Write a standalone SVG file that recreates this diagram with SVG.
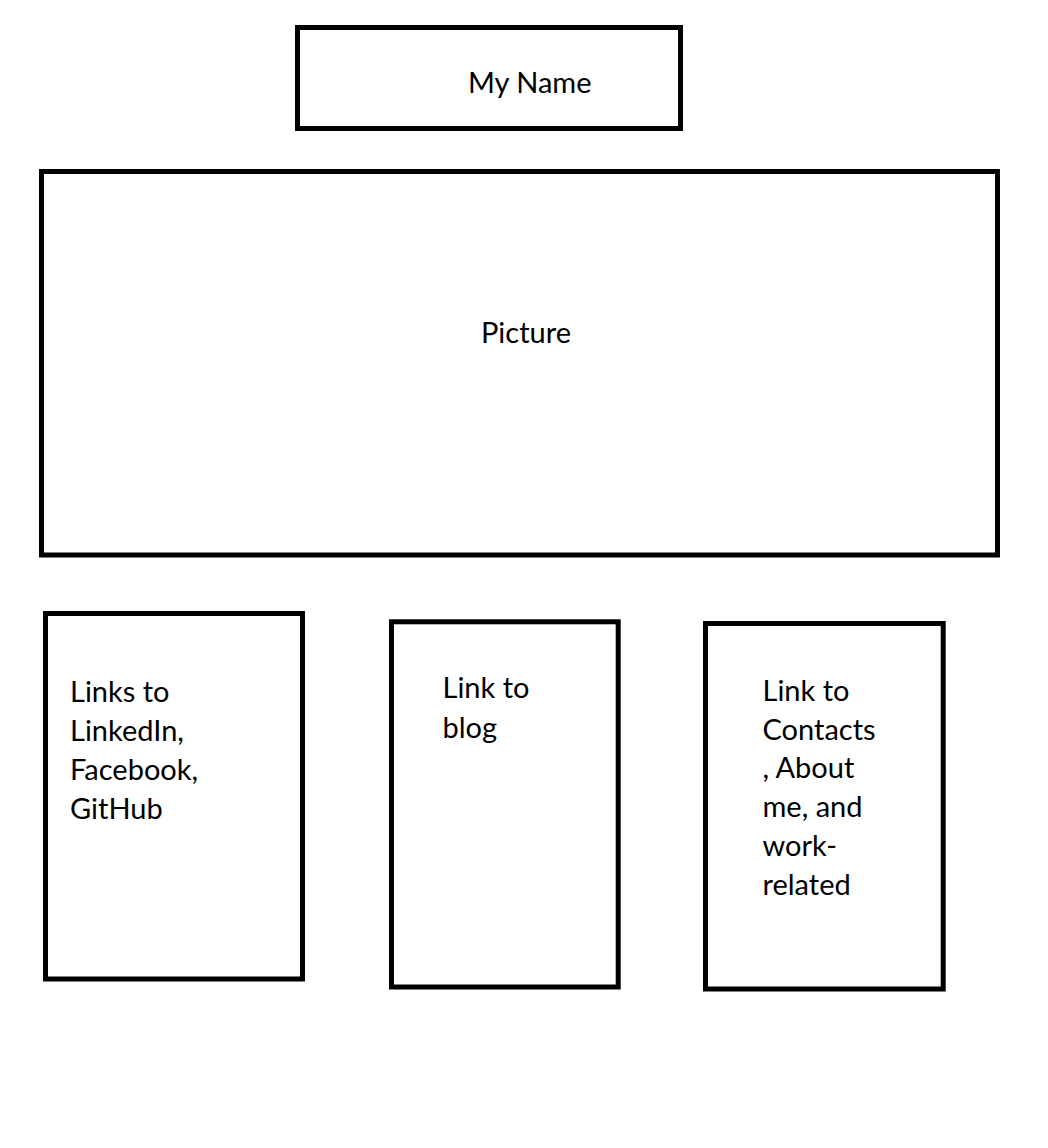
<svg xmlns="http://www.w3.org/2000/svg" width="1048" height="1148" viewBox="0 0 1048 1148">
<style>
.box{fill:none;stroke:#000;stroke-width:5}
.t{font-family:Lato,"Liberation Sans",sans-serif;font-size:29px;fill:#000}
</style>
<rect width="1048" height="1148" fill="#fff"/>
<g id="name">
<rect class="box" x="297.5" y="27.5" width="383" height="101"/>
<text class="t" x="468" y="92.7">My Name</text>
</g>
<g id="picture">
<rect class="box" x="41.5" y="171.5" width="956" height="383.5"/>
<text class="t" x="481" y="343.3">Picture</text>
</g>
<g id="social">
<rect class="box" x="45.5" y="613.5" width="257" height="365.5"/>
<text class="t" x="70"><tspan x="70" y="702.3">Links to</tspan><tspan x="70" y="741.3">LinkedIn,</tspan><tspan x="70" y="780.3">Facebook,</tspan><tspan x="70" y="819.3">GitHub</tspan></text>
</g>
<g id="blog">
<rect class="box" x="391.5" y="621.8" width="226.7" height="365.2"/>
<text class="t" x="442.5"><tspan x="442.5" y="698.3">Link to</tspan><tspan x="442.5" y="737.5">blog</tspan></text>
</g>
<g id="contacts">
<rect class="box" x="705.5" y="623.5" width="237.7" height="365.5"/>
<text class="t" x="762.5"><tspan x="762.5" y="700.7">Link to</tspan><tspan x="762.5" y="739.5">Contacts</tspan><tspan x="762.5" y="778.3">, About</tspan><tspan x="762.5" y="817">me, and</tspan><tspan x="762.5" y="856">work-</tspan><tspan x="762.5" y="895">related</tspan></text>
</g>
<g id="connectors"></g>
</svg>
